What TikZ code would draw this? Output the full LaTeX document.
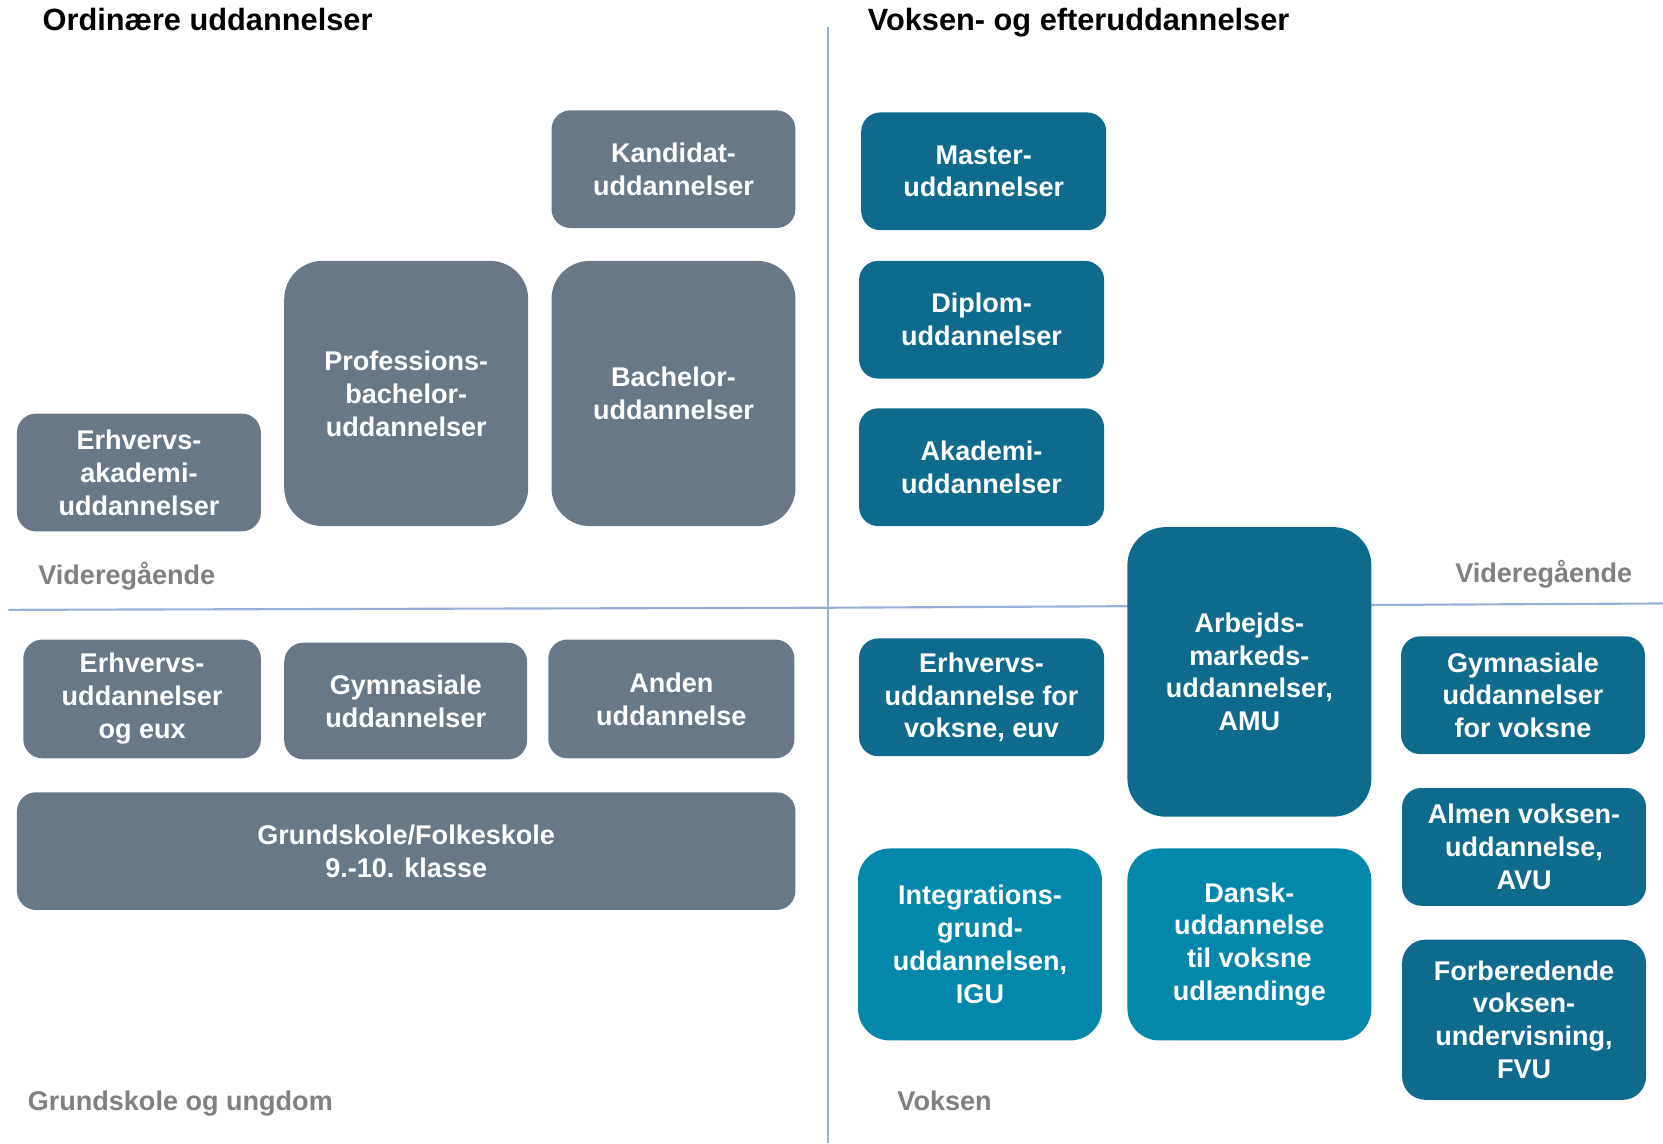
\documentclass[tikz,border=0pt]{standalone}
\usepackage{fontspec}
\setmainfont{Liberation Sans}
\definecolor{slate}{RGB}{104,120,135}
\definecolor{teal1}{RGB}{14,107,142}
\definecolor{teal2}{RGB}{3,136,172}
\definecolor{lbl}{RGB}{128,128,128}
\definecolor{sep}{RGB}{150,176,218}
\tikzset{
  base/.style={rectangle, text=white, align=center, inner sep=0pt,
    font=\fontsize{25.5}{31}\selectfont\bfseries},
  gbox/.style={base, fill=slate},
  tbox/.style={base, fill=teal1},
  lbox/.style={base, fill=teal2},
  ttl/.style={anchor=base west, inner sep=0pt, font=\fontsize{29}{34}\selectfont\bfseries, text=black},
  lab/.style={anchor=base west, inner sep=0pt, font=\fontsize{25.5}{30}\selectfont\bfseries, text=lbl},
  sepline/.style={draw=sep, line width=2pt}
}
\begin{document}
\begin{tikzpicture}[x=1pt,y=-1pt]
\useasboundingbox (0,0) rectangle (1568,1078);
% separator lines
\coordinate (vt) at (781,25);
\coordinate (vb) at (781,1078);
\coordinate (hl) at (8,575);
\coordinate (hm) at (781,573);
\coordinate (hr) at (1568,569);
\draw[sepline] (vt) -- (vb);
\draw[sepline] (hl) -- (hm) -- (hr);
% titles
\node[ttl] (t1) at (40,29) {Ordinære uddannelser};
\node[ttl] (t2) at (818,29) {Voksen- og efteruddannelser};
% labels
\node[lab] (l1) at (36,551) {Videregående};
\node[lab] (l2) at (1372,549) {Videregående};
\node[lab] (l3) at (26,1047) {Grundskole og ungdom};
\node[lab] (l4) at (846,1047) {Voksen};
% left gray boxes
\node[gbox, rounded corners=18pt, minimum width=230pt, minimum height=111pt] (kand) at (635,159.5) {Kandidat-\\uddannelser};
\node[gbox, rounded corners=36pt, minimum width=230pt, minimum height=250pt] (prof) at (383,371) {Professions-\\bachelor-\\uddannelser};
\node[gbox, rounded corners=36pt, minimum width=230pt, minimum height=250pt] (bach) at (635,371) {Bachelor-\\uddannelser};
\node[gbox, rounded corners=18pt, minimum width=230pt, minimum height=111pt] (eaka) at (131,445.5) {Erhvervs-\\akademi-\\uddannelser};
\node[gbox, rounded corners=18pt, minimum width=224pt, minimum height=112pt] (eud) at (134,659) {Erhvervs-\\uddannelser\\og eux};
\node[gbox, rounded corners=18pt, minimum width=229pt, minimum height=110pt] (gym) at (382.5,661) {Gymnasiale\\uddannelser};
\node[gbox, rounded corners=18pt, minimum width=232pt, minimum height=112pt] (anden) at (633,659) {Anden\\uddannelse};
\node[gbox, rounded corners=18pt, minimum width=734pt, minimum height=111pt] (grund) at (383,802.5) {Grundskole/Folkeskole\\9.-10. klasse};
% right teal boxes
\node[tbox, rounded corners=18pt, minimum width=231pt, minimum height=111pt] (master) at (927.5,161.5) {Master-\\uddannelser};
\node[tbox, rounded corners=18pt, minimum width=231pt, minimum height=111pt] (diplom) at (925.5,301.5) {Diplom-\\uddannelser};
\node[tbox, rounded corners=18pt, minimum width=231pt, minimum height=111pt] (akad) at (925.5,440.5) {Akademi-\\uddannelser};
\node[tbox, rounded corners=36pt, minimum width=230pt, minimum height=273pt] (amu) at (1178,633.5) {Arbejds-\\markeds-\\uddannelser,\\AMU};
\node[tbox, rounded corners=18pt, minimum width=231pt, minimum height=111pt] (euv) at (925.5,657.5) {Erhvervs-\\uddannelse for\\voksne, euv};
\node[tbox, rounded corners=18pt, minimum width=230pt, minimum height=111pt] (gymv) at (1436,655.5) {Gymnasiale\\uddannelser\\for voksne};
\node[tbox, rounded corners=18pt, minimum width=230pt, minimum height=111pt] (avu) at (1437,798.5) {Almen voksen-\\uddannelse,\\AVU};
\node[tbox, rounded corners=22pt, minimum width=230pt, minimum height=151pt] (fvu) at (1437,961.5) {Forberedende\\voksen-\\undervisning,\\FVU};
\node[lbox, rounded corners=30pt, minimum width=230pt, minimum height=181pt] (igu) at (924,890.5) {Integrations-\\grund-\\uddannelsen,\\IGU};
\node[lbox, rounded corners=30pt, minimum width=230pt, minimum height=181pt] (dansk) at (1178,890.5) {Dansk-\\uddannelse\\til voksne\\udlændinge};
\end{tikzpicture}
\end{document}
